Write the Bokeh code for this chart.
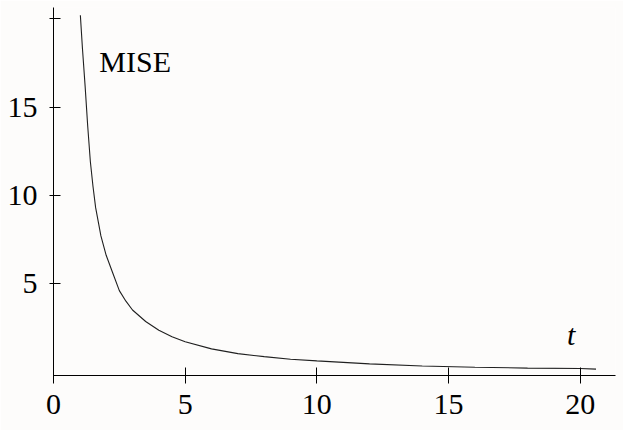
from bokeh.plotting import figure
from bokeh.models import Range1d, Label, FixedTicker
from bokeh.embed import file_html
from bokeh.resources import INLINE

# data
t_vals = [1.02, 1.1, 1.2, 1.3, 1.4, 1.5, 1.6, 1.8, 2.0, 2.25, 2.5, 2.75, 3.0, 3.5, 4.0,
          4.5, 5.0, 6.0, 7.0, 8.0, 9.0, 10.0, 12.0, 14.0, 16.0, 18.0, 20.0, 20.6]
mise_vals = [20.2, 18.3, 16.2, 13.9, 11.9, 10.5, 9.3, 7.7, 6.6, 5.6, 4.6, 4.0, 3.5, 2.85, 2.35,
             1.98, 1.7, 1.3, 1.03, 0.86, 0.71, 0.62, 0.45, 0.33, 0.26, 0.21, 0.19, 0.15]
x_ticks = [0, 5, 10, 15, 20]
x_tick_labels = {0: "0", 5: "5", 10: "10", 15: "15", 20: "20"}
y_ticks = [5, 10, 15, 20]
y_tick_labels = {5: "5", 10: "10", 15: "15", 20: ""}

FONT = "'Liberation Serif', serif"
BG = "#fdfcfb"

p = figure(width=623, height=430, output_backend="svg", toolbar_location=None,
           x_range=Range1d(0, 21.34), y_range=Range1d(-0.21, 20.64),
           min_border_left=53, min_border_right=8, min_border_top=7, min_border_bottom=55)
p.background_fill_color = BG
p.border_fill_color = BG
p.outline_line_color = None
p.grid.visible = False

p.line(t_vals, mise_vals, line_color="#202020", line_width=1.1)

for ax in (p.xaxis[0], p.yaxis[0]):
    ax.axis_line_color = "black"
    ax.axis_line_width = 1
    ax.major_tick_line_color = "black"
    ax.major_tick_line_width = 1
    ax.minor_tick_line_color = None
    ax.major_label_text_font = FONT
    ax.major_label_text_font_size = "30px"
    ax.major_label_text_color = "black"

p.xaxis[0].ticker = FixedTicker(ticks=x_ticks)
p.xaxis[0].major_label_overrides = x_tick_labels
p.xaxis[0].major_tick_in = 8
p.xaxis[0].major_tick_out = 8
p.xaxis[0].major_label_standoff = 11

p.yaxis[0].ticker = FixedTicker(ticks=y_ticks)
p.yaxis[0].major_label_overrides = y_tick_labels
p.yaxis[0].major_tick_in = 7
p.yaxis[0].major_tick_out = 4
p.yaxis[0].major_label_standoff = 12

p.add_layout(Label(x=1.74, y=17.57, text="MISE", text_font=FONT,
                   text_font_size="30px", text_align="left", text_baseline="alphabetic",
                   text_color="black"))
p.add_layout(Label(x=19.66, y=2.13, text="t", text_font=FONT, text_font_style="italic",
                   text_font_size="30px", text_align="center", text_baseline="alphabetic",
                   text_color="black"))

open("out.html", "w").write(file_html(p, INLINE))
